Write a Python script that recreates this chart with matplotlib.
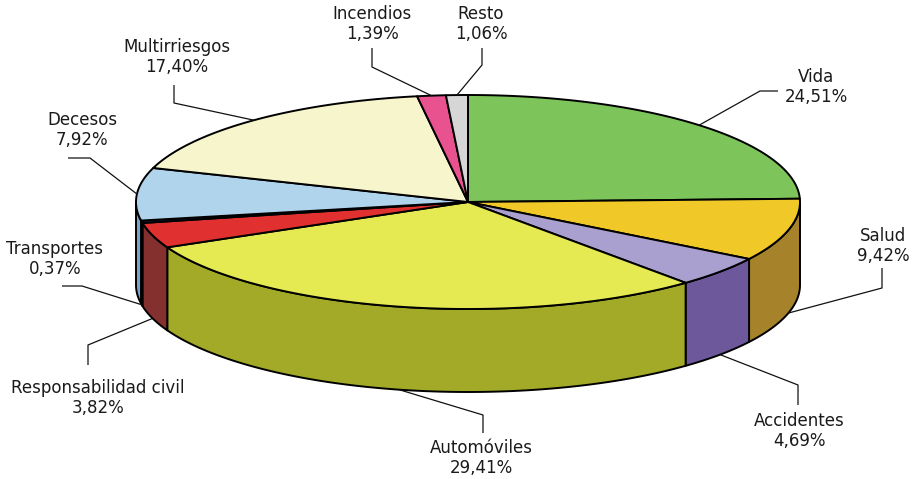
import numpy as np
import matplotlib
matplotlib.use("Agg")
import matplotlib.pyplot as plt
from matplotlib.patches import Polygon

# ---- data ----
categories = ["Vida", "Salud", "Accidentes", "Automóviles", "Responsabilidad civil",
              "Transportes", "Decesos", "Multirriesgos", "Incendios", "Resto"]
values = [24.51, 9.42, 4.69, 29.41, 3.82, 0.37, 7.92, 17.40, 1.39, 1.06]
value_labels = ["24,51%", "9,42%", "4,69%", "29,41%", "3,82%",
                "0,37%", "7,92%", "17,40%", "1,39%", "1,06%"]

# ---- style ----
top_colors = ["#7DC55A", "#F0C828", "#A9A0D0", "#E6EA52", "#E03030",
              "#22224A", "#B0D4EC", "#F7F5CB", "#E8528E", "#D6D6D6"]
side_colors = ["#5E9A40", "#A6822A", "#6E589C", "#A2AA28", "#84302E",
               "#22224A", "#7DA4C8", "#C8C6A0", "#B03C6A", "#A8A8A8"]

# label layout (pixel coords): text centre, elbow, end of leader
label_layout = {
    "Vida": ((816, 87), [(760, 91), (778, 91)]),
    "Salud": ((883, 246), [(882, 288), (882, 268)]),
    "Accidentes": ((799, 431), [(798, 385), (798, 405)]),
    "Automóviles": ((481, 458), [(483, 415), (483, 433)]),
    "Responsabilidad civil": ((98, 398), [(88, 345), (88, 365)]),
    "Transportes": ((55, 259), [(82, 286), (62, 286)]),
    "Decesos": ((82, 130), [(90, 158), (68, 158)]),
    "Multirriesgos": ((177, 57), [(174, 103), (174, 85)]),
    "Incendios": ((372, 24), [(372, 67), (372, 48)]),
    "Resto": ((481, 24), [(482, 65), (482, 48)]),
}

W, H = 913, 479
fig = plt.figure(figsize=(W / 100, H / 100), dpi=100)
ax = fig.add_axes([0, 0, 1, 1])
ax.set_xlim(0, W)
ax.set_ylim(H, 0)
ax.axis("off")

cx, cy, rx, ry, depth = 468, 202, 332, 107, 83
lw = 1.4

def pt(theta_deg, dy=0.0):
    t = np.radians(theta_deg)
    return cx + rx * np.cos(t), cy - ry * np.sin(t) + dy

total = sum(values)
cum = np.concatenate([[0], np.cumsum(values)]) / total
starts = 90 - 360 * cum[:-1]
ends = 90 - 360 * cum[1:]

# side walls (front half: theta in [-180, 0])
for i in range(len(values)):
    hi = min(starts[i], 0)
    lo = max(ends[i], -180)
    if hi <= lo:
        continue
    th = np.linspace(hi, lo, 80)
    xs, ys = pt(th)
    topc = np.column_stack([xs, ys])
    botc = np.column_stack([xs, ys + depth])[::-1]
    poly = Polygon(np.vstack([topc, botc]), closed=True, facecolor=side_colors[i],
                   edgecolor="black", lw=lw, joinstyle="round", zorder=1)
    ax.add_patch(poly)

# top faces
for i in range(len(values)):
    th = np.linspace(starts[i], ends[i], max(4, int(abs(starts[i] - ends[i]) * 2)))
    xs, ys = pt(th)
    verts = np.vstack([[cx, cy], np.column_stack([xs, ys])])
    poly = Polygon(verts, closed=True, facecolor=top_colors[i], edgecolor="black",
                   lw=lw, joinstyle="round", zorder=2)
    ax.add_patch(poly)

# labels and leaders
for i, name in enumerate(categories):
    mid = (starts[i] + ends[i]) / 2
    if np.sin(np.radians(mid)) < 0:
        ax_, ay_ = pt(mid, depth)
    else:
        ax_, ay_ = pt(mid)
    (tx, ty), pts = label_layout[name]
    xs = [ax_] + [p[0] for p in pts]
    ys = [ay_] + [p[1] for p in pts]
    ax.plot(xs, ys, color="#111111", lw=0.9, zorder=3, solid_capstyle="butt")
    ax.text(tx, ty, f"{name}\n{value_labels[i]}", ha="center", va="center",
            fontsize=12, color="#1a1a1a", family="DejaVu Sans", linespacing=1.2)

fig.savefig("out.png", dpi=100)
